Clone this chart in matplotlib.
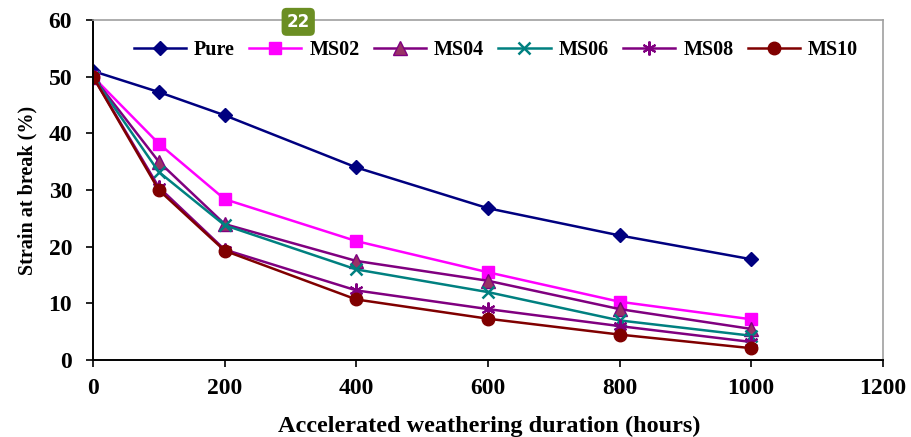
import numpy as np
import matplotlib.pyplot as plt

# accelerated weathering duration (hours)
hours = [0, 100, 200, 400, 600, 800, 1000]

# strain at break (%)
pure = [51.0, 47.3, 43.2, 34.0, 26.8, 22.0, 17.8]
ms02 = [50.0, 38.2, 28.4, 21.0, 15.5, 10.3, 7.2]
ms04 = [50.0, 35.0, 24.0, 17.5, 14.0, 9.0, 5.5]
ms06 = [50.0, 33.2, 23.8, 16.0, 12.0, 7.0, 4.3]
ms08 = [50.0, 30.5, 19.5, 12.3, 9.0, 6.0, 3.2]
ms10 = [50.0, 30.0, 19.3, 10.7, 7.3, 4.5, 2.1]

labels = ['Pure', 'MS02', 'MS04', 'MS06', 'MS08', 'MS10']

plt.rcParams['font.family'] = ['Liberation Serif', 'DejaVu Serif']
plt.rcParams['font.weight'] = 'bold'

fig = plt.figure(figsize=(9.12, 4.37), dpi=100)
ax = fig.add_axes([0.102, 0.176, 0.866, 0.778])

ax.plot(hours, pure, color='#000080', marker='D', ms=7, mfc='#000080', mec='#000080', lw=1.8, label=labels[0])
ax.plot(hours, ms02, color='#FF00FF', marker='s', ms=9, mfc='#FF00FF', mec='#FF00FF', lw=1.8, label=labels[1])
ax.plot(hours, ms04, color='#800080', marker='^', ms=10, mfc='#993366', mec='#800080', lw=1.8, label=labels[2])
ax.plot(hours, ms06, color='#008080', marker='x', ms=9, mew=1.8, lw=1.8, label=labels[3])
ax.plot(hours, ms08, color='#800080', marker=(6, 2, 0), ms=10, mew=1.5, lw=1.8, label=labels[4])
ax.plot(hours, ms10, color='#800000', marker='o', ms=9, mfc='#800000', mec='#800000', lw=1.8, label=labels[5])

ax.set_xlim(0, 1200)
ax.set_ylim(0, 60)
ax.set_xticks(np.arange(0, 1201, 200))
ax.set_yticks(np.arange(0, 61, 10))
ax.tick_params(direction='out', length=5, width=1.2, labelsize=17)
ax.tick_params(axis='x', pad=8)
ax.tick_params(axis='y', pad=10)
for lab in ax.get_xticklabels() + ax.get_yticklabels():
    lab.set_fontweight('bold')

for s in ['left', 'bottom']:
    ax.spines[s].set_linewidth(1.4)
    ax.spines[s].set_color('black')
for s in ['top', 'right']:
    ax.spines[s].set_color('#a0a0a0')
    ax.spines[s].set_linewidth(1.2)

ax.set_ylabel('Strain at break (%)', fontsize=14.5, fontweight='bold', labelpad=8)
fig.text(0.537, 0.025, 'Accelerated weathering duration (hours)', fontsize=17.5,
         fontweight='bold', ha='center', va='center')

leg = ax.legend(loc='upper center', bbox_to_anchor=(0.51, 0.995), ncol=6, frameon=False,
                fontsize=14.5, handlelength=2.6, columnspacing=0.7, handletextpad=0.4)
for t in leg.get_texts():
    t.set_fontweight('bold')

fig.text(0.327, 0.95, '22', fontsize=12, color='white', family='DejaVu Sans',
         ha='center', va='center',
         bbox=dict(boxstyle='round,pad=0.3', fc='#6b8e23', ec='none'))

fig.savefig('out.png', dpi=100)
